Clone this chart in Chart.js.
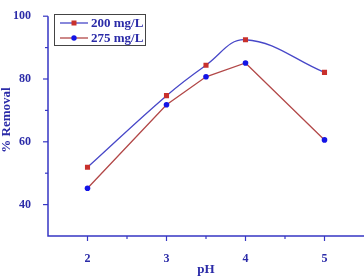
<!DOCTYPE html>
<html>
<head>
<meta charset="utf-8">
<script src="https://cdn.jsdelivr.net/npm/chart.js@4"></script>
<style>
  html, body { margin: 0; padding: 0; background: #fff; }
  #wrap { width: 364px; height: 278px; position: relative; }
</style>
</head>
<body>
<div id="wrap"><canvas id="chart1"></canvas></div>
<script>
// data
var pH = [2, 3, 3.5, 4, 5];
var removal200 = [51.9, 74.7, 84.4, 92.5, 82.1];
var removal275 = [45.2, 71.8, 80.7, 85.1, 60.6];
var seriesNames = ['200 mg/L', '275 mg/L'];
var xTicks = [2, 3, 4, 5];
var yTicks = [40, 60, 80, 100];

var axisColor = '#3636c4';
var textColor = '#2b2ba8';
var blueLine = '#4848c8';
var redLine = '#b24848';
var redMark = '#c8302c';
var blueMark = '#1414e6';
var fontFam = '"Liberation Serif", "Times New Roman", serif';

var ctx1 = document.getElementById('chart1');

function toPoints(xs, ys) {
  return xs.map(function (x, i) { return { x: x, y: ys[i] }; });
}

// axes, ticks and legend drawn by hand (Origin style)
var originAxes = {
  id: 'originAxes',
  afterDatasetsDraw: function (chart) {
    var c = chart.ctx;
    var xs = chart.scales.x, ys = chart.scales.y;
    var area = chart.chartArea;
    c.save();
    c.strokeStyle = axisColor;
    c.lineWidth = 1.5;
    c.beginPath();
    c.moveTo(area.left, area.top);
    c.lineTo(area.left, area.bottom);
    c.lineTo(area.right, area.bottom);
    c.stroke();
    c.lineWidth = 1.2;
    // x ticks
    for (var v = 2; v <= 5; v += 0.5) {
      var px = xs.getPixelForValue(v);
      var len = (v % 1 === 0) ? 5 : 3;
      c.beginPath();
      c.moveTo(px, area.bottom);
      c.lineTo(px, area.bottom + len);
      c.stroke();
    }
    // y ticks
    for (var w = 40; w <= 100; w += 10) {
      var py = ys.getPixelForValue(w);
      var l2 = (w % 20 === 0) ? 5 : 3;
      c.beginPath();
      c.moveTo(area.left, py);
      c.lineTo(area.left - l2, py);
      c.stroke();
    }
    // axis titles
    c.fillStyle = textColor;
    c.font = 'bold 13px ' + fontFam;
    c.textAlign = 'center';
    c.textBaseline = 'middle';
    c.fillText('pH', (area.left + area.right) / 2, 270);
    c.save();
    c.translate(7, 120);
    c.rotate(-Math.PI / 2);
    c.fillText('% Removal', 0, 0);
    c.restore();

    // legend box
    c.strokeStyle = '#444444';
    c.lineWidth = 1;
    c.strokeRect(54.5, 14.5, 91, 31);
    var rows = [23, 38];
    c.textAlign = 'left';
    chart.data.datasets.forEach(function (ds, i) {
      var ry = rows[i];
      c.strokeStyle = ds.borderColor;
      c.lineWidth = 1.3;
      c.beginPath();
      c.moveTo(60, ry);
      c.lineTo(88, ry);
      c.stroke();
      c.fillStyle = ds.pointBackgroundColor;
      c.beginPath();
      if (ds.pointStyle === 'rect') {
        c.rect(71.5, ry - 2.5, 5, 5);
      } else {
        c.arc(74, ry, 2.7, 0, Math.PI * 2);
      }
      c.fill();
      c.fillStyle = textColor;
      c.fillText(ds.label, 91, ry + 1);
    });
    c.restore();
  }
};

var myChart1 = new Chart(ctx1, {
  type: 'line',
  data: {
    datasets: [{
      label: seriesNames[0],
      data: toPoints(pH, removal200),
      borderColor: blueLine,
      borderWidth: 1.3,
      tension: 0.4,
      pointStyle: 'rect',
      pointRadius: 3.6,
      pointBackgroundColor: redMark,
      pointBorderColor: redMark,
      pointBorderWidth: 0
    }, {
      label: seriesNames[1],
      data: toPoints(pH, removal275),
      borderColor: redLine,
      borderWidth: 1.3,
      tension: 0,
      pointStyle: 'circle',
      pointRadius: 2.8,
      pointBackgroundColor: blueMark,
      pointBorderColor: blueMark,
      pointBorderWidth: 0
    }]
  },
  options: {
    responsive: true,
    maintainAspectRatio: false,
    animation: false,
    layout: { autoPadding: false, padding: { top: 14, right: 0, left: 0, bottom: 0 } },
    plugins: {
      legend: { display: false },
      tooltip: { enabled: false }
    },
    scales: {
      x: {
        type: 'linear',
        min: 1.5,
        max: 5.5,
        afterFit: function (s) { s.height = 42; },
        afterBuildTicks: function (s) { s.ticks = xTicks.map(function (v) { return { value: v }; }); },
        grid: { display: false },
        border: { display: false },
        ticks: {
          padding: 8,
          color: textColor,
          font: { family: fontFam, weight: 'bold', size: 12 },
          maxRotation: 0
        }
      },
      y: {
        min: 30,
        max: 100,
        afterFit: function (s) { s.width = 48; },
        afterBuildTicks: function (s) { s.ticks = yTicks.map(function (v) { return { value: v }; }); },
        grid: { display: false },
        border: { display: false },
        ticks: {
          padding: 9,
          color: textColor,
          font: { family: fontFam, weight: 'bold', size: 12 }
        }
      }
    }
  },
  plugins: [originAxes]
});
</script>
</body>
</html>
